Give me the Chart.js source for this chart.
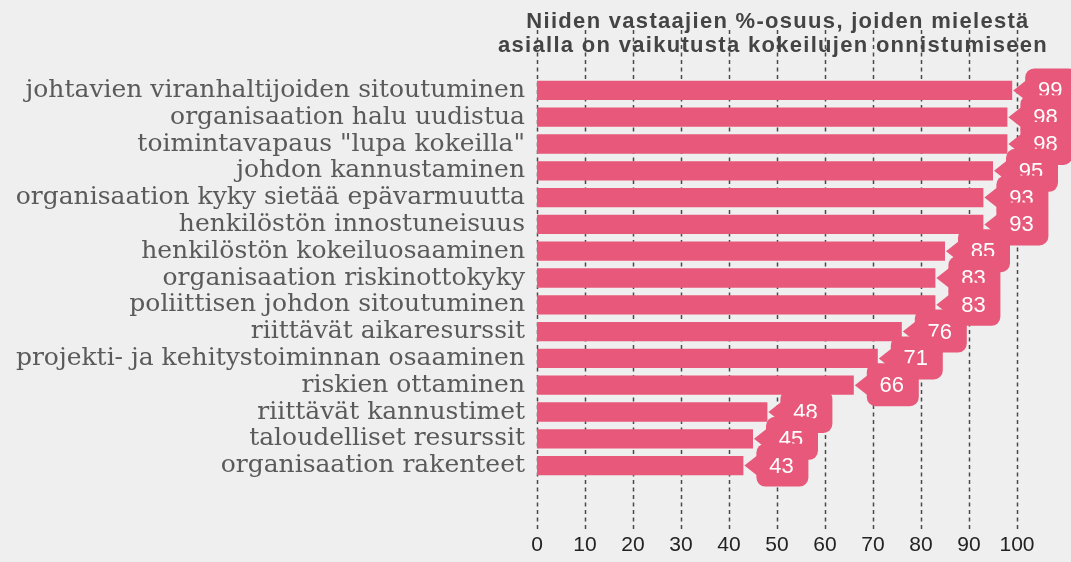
<!DOCTYPE html>
<html>
<head>
<meta charset="utf-8">
<script src="https://cdn.jsdelivr.net/npm/chart.js@4/dist/chart.umd.min.js"></script>
<style>
  html, body { margin: 0; padding: 0; background: #efefef; }
  #wrap { position: relative; width: 1071px; height: 562px; }
</style>
</head>
<body>
<div id="wrap"><canvas id="chart"></canvas></div>
<script>
const categories = [
    'johtavien viranhaltijoiden sitoutuminen',
    'organisaation halu uudistua',
    'toimintavapaus "lupa kokeilla"',
    'johdon kannustaminen',
    'organisaation kyky sietää epävarmuutta',
    'henkilöstön innostuneisuus',
    'henkilöstön kokeiluosaaminen',
    'organisaation riskinottokyky',
    'poliittisen johdon sitoutuminen',
    'riittävät aikaresurssit',
    'projekti- ja kehitystoiminnan osaaminen',
    'riskien ottaminen',
    'riittävät kannustimet',
    'taloudelliset resurssit',
    'organisaation rakenteet'
]
const shares = [99, 98, 98, 95, 93, 93, 85, 83, 83, 76, 71, 66, 48, 45, 43]
const xTicks = [0, 10, 20, 30, 40, 50, 60, 70, 80, 90, 100]
const titleLines = [
    'Niiden vastaajien %-osuus, joiden mielestä',
    'asialla on vaikutusta kokeilujen onnistumiseen'
]

const pink = '#e8587a'

// background + dashed vertical grid that runs up behind the title
const backdrop = {
    id: 'backdrop',
    beforeDraw(chart) {
        const ctx = chart.ctx
        const x = chart.scales.x
        ctx.save()
        ctx.fillStyle = '#efefef'
        ctx.fillRect(0, 0, chart.width, chart.height)
        ctx.strokeStyle = '#4a4a4a'
        ctx.lineWidth = 1.5
        ctx.setLineDash([4, 3.5])
        xTicks.forEach(v => {
            const px = Math.round(x.getPixelForValue(v)) + 0.5
            ctx.beginPath()
            ctx.moveTo(px, 30)
            ctx.lineTo(px, 530)
            ctx.stroke()
        })
        ctx.restore()
    },
    afterDraw(chart) {
        // two-line title centred over the plot area
        const ctx = chart.ctx
        const cx = (chart.chartArea.left + chart.chartArea.right) / 2
        ctx.save()
        ctx.fillStyle = '#444'
        ctx.font = 'bold 22px "Liberation Sans", Arial, sans-serif'
        ctx.letterSpacing = '1.3px'
        ctx.textAlign = 'center'
        ctx.textBaseline = 'middle'
        ctx.fillText(titleLines[0], cx + 1, 22)
        ctx.fillText(titleLines[1], cx - 4, 46)
        ctx.restore()
    }
}

// speech-bubble value labels
const bubbles = {
    id: 'bubbles',
    afterDatasetsDraw(chart) {
        const ctx = chart.ctx
        const meta = chart.getDatasetMeta(0)
        ctx.save()
        meta.data.forEach((bar, i) => {
            const tipX = bar.x + 1
            const cy = bar.y
            const left = tipX + 12
            const w = 52
            const top = cy - 22
            const h = 43
            ctx.fillStyle = pink
            ctx.beginPath()
            ctx.roundRect(left, top, w, h, 9)
            ctx.fill()
            ctx.beginPath()
            ctx.moveTo(tipX, cy)
            ctx.lineTo(left + 2, cy - 11)
            ctx.lineTo(left + 2, cy + 11)
            ctx.closePath()
            ctx.fill()
            ctx.fillStyle = '#fff'
            ctx.font = '22px "Liberation Sans", Arial, sans-serif'
            ctx.textAlign = 'center'
            ctx.textBaseline = 'middle'
            ctx.fillText(String(shares[i]), left + w / 2 - 1, cy + 1)
        })
        ctx.restore()
    }
}

const data = {
    labels: categories,
    datasets: [{
        data: shares,
        backgroundColor: pink,
        borderWidth: 0,
        categoryPercentage: 1,
        barPercentage: 0.72
    }]
}

const config = {
    type: 'bar',
    data: data,
    plugins: [backdrop, bubbles],
    options: {
        indexAxis: 'y',
        responsive: true,
        maintainAspectRatio: false,
        animation: false,
        layout: {
            padding: { top: 77, right: 54, bottom: 0, left: 0 }
        },
        plugins: {
            legend: { display: false },
            tooltip: { enabled: false },
            title: { display: false }
        },
        scales: {
            x: {
                min: 0,
                max: 100,
                afterBuildTicks: s => { s.ticks = xTicks.map(v => ({ value: v })) },
                afterFit: s => {
                    s.height = 83
                    s.paddingLeft = 0
                    s.paddingRight = 0
                },
                grid: { display: false, drawTicks: false },
                border: { display: false },
                ticks: {
                    color: '#222',
                    padding: 54,
                    maxRotation: 0,
                    font: { family: '"Liberation Sans", Arial, sans-serif', size: 21 }
                }
            },
            y: {
                afterFit: s => {
                    s.width = 537
                    s.paddingTop = 0
                    s.paddingBottom = 0
                },
                grid: { display: false, drawTicks: false },
                border: { display: false },
                ticks: {
                    color: '#5a5a5a',
                    padding: 12,
                    autoSkip: false,
                    font: { family: '"DejaVu Serif", serif', size: 25 }
                }
            }
        }
    }
}

new Chart(document.getElementById('chart'), config)
</script>
</body>
</html>
